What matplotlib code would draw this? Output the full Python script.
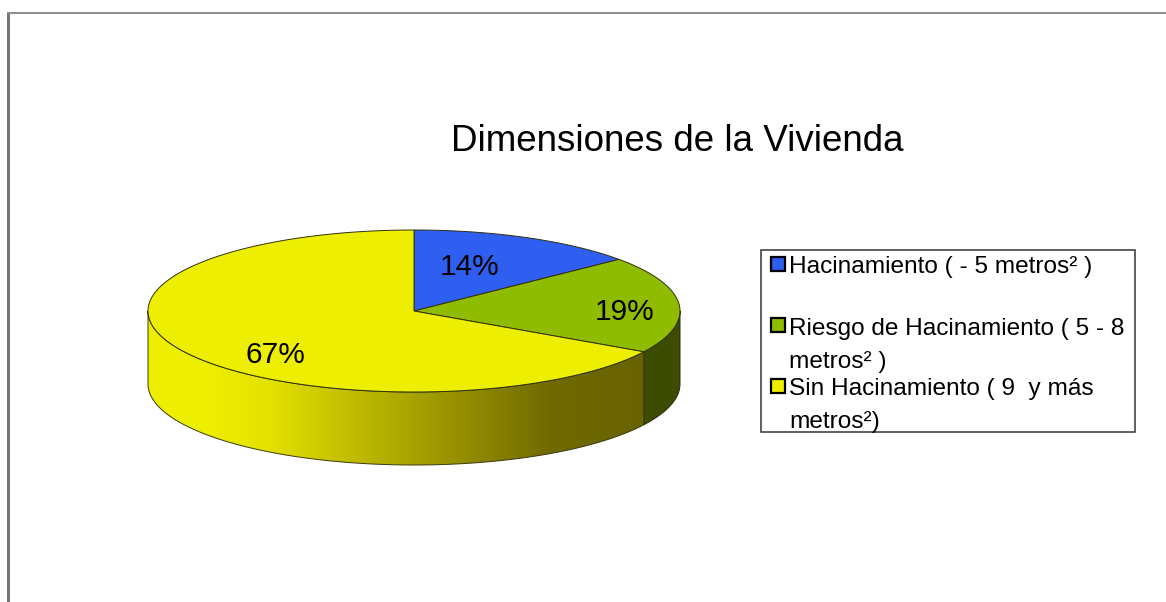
import numpy as np
import matplotlib
matplotlib.use("Agg")
import matplotlib.pyplot as plt
from matplotlib.colors import LinearSegmentedColormap
from matplotlib.patches import Polygon, Rectangle

plt.rcParams['font.family'] = ['Liberation Sans', 'DejaVu Sans']

title = "Dimensiones de la Vivienda"
labels = ["Hacinamiento ( - 5 metros² )",
          "Riesgo de Hacinamiento ( 5 - 8\nmetros² )",
          "Sin Hacinamiento ( 9  y más\nmetros²)"]
values = [14, 19.4, 66.6]
colors = ["#2e5ff0", "#8fbb00", "#eeee00"]

# pie geometry in pixels
cx, cy = 414, 311
rx, ry = 266, 81
depth = 73


def rim(a0, a1, n=200):
    # points on the top ellipse, angles clockwise from 12 o'clock
    a = np.radians(np.linspace(a0, a1, n))
    return cx + rx * np.sin(a), cy - ry * np.cos(a)


fig = plt.figure(figsize=(11.66, 6.02), dpi=100)
ax = fig.add_axes([0, 0, 1, 1])
ax.set_xlim(0, 1166)
ax.set_ylim(602, 0)
ax.axis("off")

# frame of the slide
ax.plot([8, 8], [602, 13], color="#777777", lw=2.2, solid_capstyle="butt")
ax.plot([7, 1166], [13, 13], color="#8a8a8a", lw=1.4, solid_capstyle="butt")

starts = np.cumsum([0] + values[:-1]) * 3.6
ends = np.cumsum(values) * 3.6

# side wall of the green slice
x, y = rim(90, ends[1])
pts = np.r_[np.c_[x, y], np.c_[x[::-1], y[::-1] + depth]]
ax.add_patch(Polygon(pts, closed=True, fc="#3c4c00", ec="#2a2a10", lw=0.7, zorder=2))

# side wall of the yellow slice, shaded from left to right
x, y = rim(ends[1], 270)
pts = np.r_[np.c_[x, y], np.c_[x[::-1], y[::-1] + depth]]
wall = Polygon(pts, closed=True, fc="none", ec="#3a3a10", lw=0.7, zorder=3)
ax.add_patch(wall)
shade = LinearSegmentedColormap.from_list("shade", [
    (0.00, "#eeee00"), (0.12, "#eeee00"), (0.24, "#e4e200"), (0.37, "#c8c400"),
    (0.57, "#a09a00"), (0.80, "#706a00"), (1.00, "#686200")])
im = ax.imshow(np.linspace(0, 1, 256)[None, :], cmap=shade, aspect="auto",
               extent=[148, 650, cy + 81 + depth, cy], zorder=2.5)
im.set_clip_path(wall)
ax.set_xlim(0, 1166)
ax.set_ylim(602, 0)

# top faces
for start, end, col in zip(starts, ends, colors):
    x, y = rim(start, end)
    pts = np.r_[[[cx, cy]], np.c_[x, y]]
    ax.add_patch(Polygon(pts, closed=True, fc=col, ec="#2f3010", lw=0.7, zorder=4))

# percent labels
pct_pos = [(470, 275), (625, 320), (275, 363)]
for v, (px, py) in zip(values, pct_pos):
    ax.text(px, py, "%.0f%%" % v, fontsize=21.5, ha="center", va="baseline",
            color="black", zorder=5)

ax.text(677, 151, title, fontsize=26.5, ha="center", va="baseline", color="black")

# legend box
ax.add_patch(Rectangle((761, 250), 374, 182, fc="white", ec="#333333", lw=1.1))
key_y = [264, 324.5, 385.5]
text_y = [272.5, 368, 428]
for lab, col, ky, ty in zip(labels, colors, key_y, text_y):
    ax.add_patch(Rectangle((771, ky - 7), 13.5, 14, fc=col, ec="black", lw=1.6))
    ax.text(789, ty, lab, fontsize=17.6, ha="left", va="baseline", color="black",
            linespacing=1.62)

fig.savefig("out.png", dpi=100)
